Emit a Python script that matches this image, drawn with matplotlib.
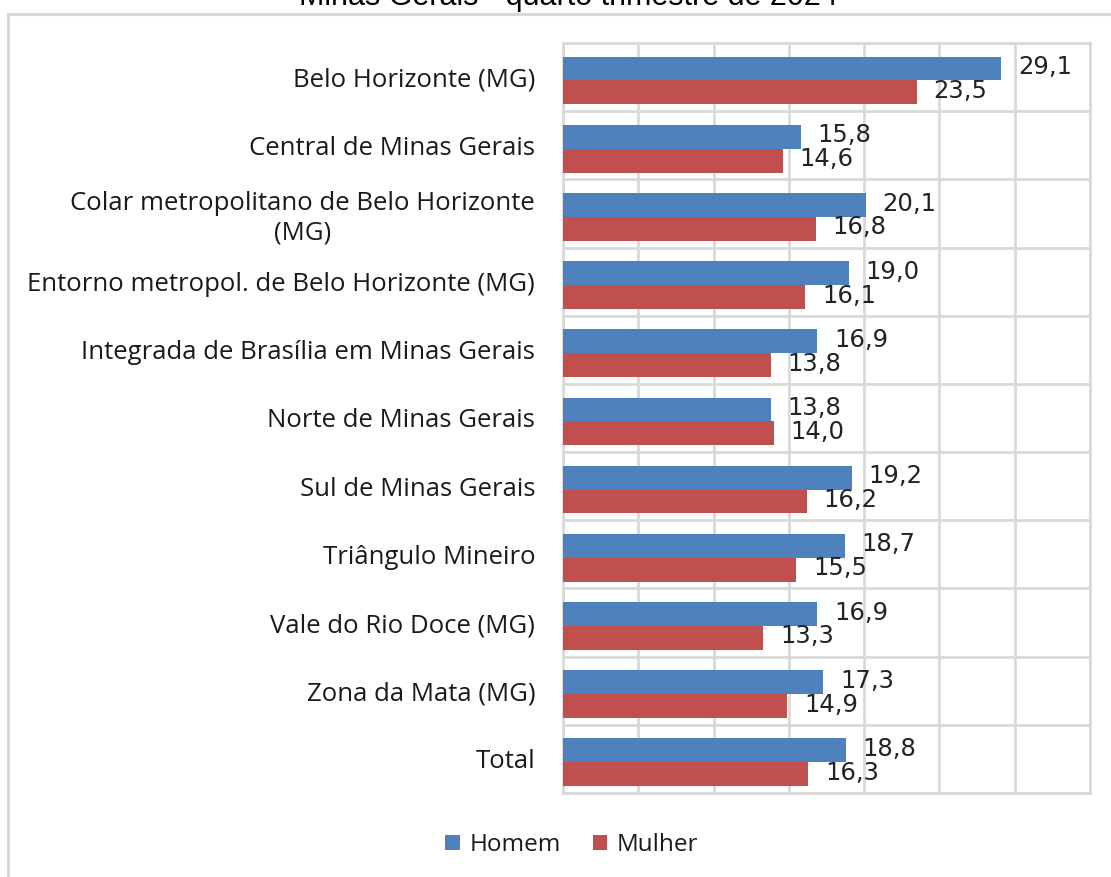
import matplotlib.pyplot as plt
import numpy as np
from matplotlib.patches import Rectangle

# data
categorias = [
    'Belo Horizonte (MG)',
    'Central de Minas Gerais',
    'Colar metropolitano de Belo Horizonte\n(MG)',
    'Entorno metropol. de Belo Horizonte (MG)',
    'Integrada de Brasília em Minas Gerais',
    'Norte de Minas Gerais',
    'Sul de Minas Gerais',
    'Triângulo Mineiro',
    'Vale do Rio Doce (MG)',
    'Zona da Mata (MG)',
    'Total',
]
homem = [29.1, 15.8, 20.1, 19.0, 16.9, 13.8, 19.2, 18.7, 16.9, 17.3, 18.8]
mulher = [23.5, 14.6, 16.8, 16.1, 13.8, 14.0, 16.2, 15.5, 13.3, 14.9, 16.3]
titulo = 'Minas Gerais - quarto trimestre de 2024'

AZUL = '#4F81BD'
VERMELHO = '#C0504D'
GRADE = '#D9D9D9'

W, H = 1111, 877
fig = plt.figure(figsize=(W / 100, H / 100), dpi=100)
fig.patch.set_facecolor('white')

# outer chart frame (cut off on the right and bottom)
fig.patches.append(Rectangle((8 / W, -0.05), 1.2, (H - 14) / H + 0.05,
                             transform=fig.transFigure, fill=False,
                             edgecolor=GRADE, linewidth=2.2))

# title, mostly cut off at the top
fig.text(568 / W, 1 - 5 / H, titulo, ha='center', va='baseline',
         fontsize=22, family='Liberation Sans', color='#000000')

ax = fig.add_axes([563 / W, 1 - 793 / H, (1090 - 563) / W, (793 - 43) / H])

y = np.arange(len(categorias))
h = 0.35
off = 0.05
b1 = ax.barh(y - h / 2 + off, homem, height=h, color=AZUL, label='Homem', zorder=3)
b2 = ax.barh(y + h / 2 + off, mulher, height=h, color=VERMELHO, label='Mulher', zorder=3)

for bars, vals in ((b1, homem), (b2, mulher)):
    for bar, v in zip(bars, vals):
        ax.annotate(f'{v:.1f}'.replace('.', ','),
                    (bar.get_width(), bar.get_y() + bar.get_height() / 2),
                    xytext=(12, 1), textcoords='offset points',
                    ha='left', va='center', fontsize=17.5,
                    family='DejaVu Sans', color='#222222')

ax.set_xlim(0, 35)
ax.set_ylim(len(categorias) - 0.5, -0.5)
ax.set_xticks(np.arange(0, 36, 5))
ax.set_xticklabels([])
ax.set_yticks(np.arange(len(categorias) + 1) - 0.5, minor=True)
ax.set_yticks(y)
ax.set_yticklabels(categorias, fontsize=18.5, family='Open Sans',
                   color='#1a1a1a', multialignment='center')
ax.tick_params(axis='both', which='both', length=0)
ax.tick_params(axis='y', pad=20)
ax.grid(axis='x', color=GRADE, linewidth=2, zorder=0)
ax.grid(axis='y', which='minor', color=GRADE, linewidth=2, zorder=0)
for s in ax.spines.values():
    s.set_color(GRADE)
    s.set_linewidth(2)

leg = fig.legend(loc='center', bbox_to_anchor=(572 / W, 1 - 845 / H), ncol=2,
                 frameon=False, prop={'family': 'Open Sans', 'size': 17.5},
                 handlelength=0.6, handleheight=0.6, handletextpad=0.4,
                 columnspacing=1.3)
for t in leg.get_texts():
    t.set_color('#1a1a1a')

fig.savefig('out.png', dpi=100)
